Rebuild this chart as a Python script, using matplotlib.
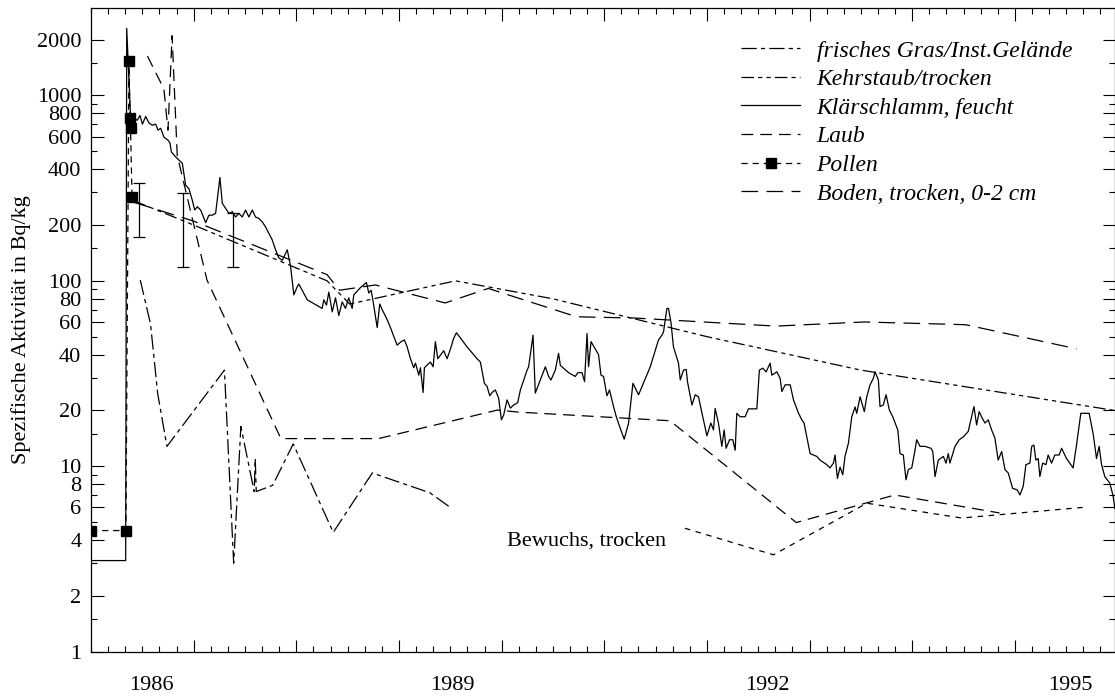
import matplotlib.pyplot as plt
import numpy as np

plt.rcParams['font.family'] = ['Liberation Serif', 'DejaVu Serif']
plt.rcParams['lines.scale_dashes'] = False

# Klärschlamm, feucht (year, Bq/kg)
klaer_t = [1986.01, 1986.338, 1986.348, 1986.387, 1986.419, 1986.452, 1986.477, 1986.501, 1986.533,
           1986.565, 1986.598, 1986.630, 1986.653, 1986.679, 1986.711, 1986.750, 1986.769, 1986.783,
           1986.825, 1986.857, 1986.890, 1986.922, 1986.954, 1986.987, 1987.010, 1987.036, 1987.068,
           1987.117, 1987.149, 1987.182, 1987.214, 1987.256, 1987.279, 1987.311, 1987.344, 1987.377,
           1987.409, 1987.441, 1987.474, 1987.506, 1987.538, 1987.571, 1987.603, 1987.635, 1987.669,
           1987.701, 1987.733, 1987.766, 1987.798, 1987.830, 1987.863, 1987.912, 1987.944, 1987.976,
           1988.009, 1988.025, 1988.107, 1988.252, 1988.268, 1988.294, 1988.317, 1988.350, 1988.382,
           1988.414, 1988.447, 1988.479, 1988.511, 1988.544, 1988.560, 1988.625, 1988.683, 1988.706,
           1988.729, 1988.749, 1988.788, 1988.813, 1988.836, 1988.878, 1988.917, 1988.982, 1989.021,
           1989.053, 1989.080, 1989.112, 1989.144, 1989.161, 1989.193, 1989.209, 1989.235, 1989.248,
           1989.306, 1989.333, 1989.355, 1989.378, 1989.436, 1989.469, 1989.508, 1989.533, 1989.560,
           1989.664, 1989.761, 1989.793, 1989.832, 1989.858, 1989.884, 1989.907, 1989.939, 1989.971,
           1989.998, 1990.020, 1990.053, 1990.085, 1990.117, 1990.156, 1990.183, 1990.248, 1990.263,
           1990.306, 1990.328, 1990.377, 1990.426, 1990.458, 1990.481, 1990.523, 1990.555, 1990.572,
           1990.652, 1990.717, 1990.744, 1990.783, 1990.808, 1990.832, 1990.847, 1990.871, 1990.944,
           1990.968, 1990.993, 1991.026, 1991.051, 1991.090, 1991.117, 1991.139, 1991.194, 1991.236,
           1991.279, 1991.334, 1991.448, 1991.528, 1991.562, 1991.577, 1991.610, 1991.626, 1991.649,
           1991.674, 1991.723, 1991.740, 1991.772, 1991.798, 1991.811, 1991.854, 1991.886, 1991.918,
           1991.951, 1992.000, 1992.038, 1992.064, 1992.080, 1992.112, 1992.145, 1992.168, 1992.187,
           1992.220, 1992.252, 1992.275, 1992.291, 1992.323, 1992.372, 1992.404, 1992.486, 1992.511,
           1992.544, 1992.577, 1992.616, 1992.632, 1992.681, 1992.713, 1992.730, 1992.762, 1992.811,
           1992.843, 1992.891, 1992.924, 1992.946, 1993.005, 1993.070, 1993.102, 1993.167, 1993.199,
           1993.232, 1993.248, 1993.271, 1993.297, 1993.323, 1993.345, 1993.378, 1993.411, 1993.443,
           1993.459, 1993.492, 1993.533, 1993.557, 1993.589, 1993.621, 1993.638, 1993.670, 1993.686,
           1993.718, 1993.745, 1993.777, 1993.810, 1993.859, 1993.881, 1993.913, 1993.939, 1993.962,
           1993.995, 1994.027, 1994.043, 1994.076, 1994.124, 1994.183, 1994.200, 1994.222, 1994.254,
           1994.303, 1994.329, 1994.351, 1994.367, 1994.416, 1994.458, 1994.497, 1994.545, 1994.578,
           1994.601, 1994.627, 1994.652, 1994.675, 1994.708, 1994.740, 1994.773, 1994.805, 1994.837,
           1994.871, 1994.903, 1994.935, 1994.978, 1995.022, 1995.049, 1995.081, 1995.107, 1995.146,
           1995.163, 1995.185, 1995.204, 1995.227, 1995.243, 1995.270, 1995.302, 1995.324, 1995.357,
           1995.389, 1995.431, 1995.455, 1995.503, 1995.567, 1995.600, 1995.642, 1995.681, 1995.723,
           1995.762, 1995.795, 1995.820, 1995.844, 1995.876, 1995.925, 1995.957, 1995.974]
klaer_v = [3.1, 3.1, 2300, 735, 751, 735, 780, 700, 770,
           710, 691, 700, 650, 665, 595, 574, 555, 496,
           466, 448, 430, 328, 314, 272, 241, 251, 241,
           206, 226, 226, 231, 361, 262, 246, 231, 236,
           221, 231, 221, 241, 221, 241, 221, 217, 208,
           195, 180, 166, 147, 133, 129, 147, 120, 84,
           93, 96, 79, 71, 79, 74, 87, 68, 81,
           65, 77, 71, 81, 71, 84, 92, 98, 86,
           89, 77, 56, 75, 70, 63, 56, 45, 47,
           48, 44, 38, 34, 36, 31, 34, 25, 34,
           36.5, 34.4, 47, 38, 42, 38, 44, 49, 52.5,
           44, 38, 36.5, 28, 27, 24, 25, 25.8, 23.3,
           17.8, 18.9, 22.8, 20.6, 21.4, 22, 25.8, 33, 34.4,
           51, 24.8, 29.2, 34.4, 30.5, 29.2, 33, 40.6, 35,
           32, 30.5, 32, 32, 28.6, 52, 34.4, 47, 40,
           31, 30.5, 24, 25.8, 21, 18.5, 17, 14, 17,
           28, 24.3, 34.4, 48, 51, 53, 71, 71, 60,
           44, 36, 29.2, 33, 33.3, 28.5, 21.4, 24.3, 23.7,
           19.4, 14.6, 17.1, 15.7, 20.5, 17.1, 12.8, 15.7, 12.5,
           13.9, 13.9, 12.2, 19.3, 18.5, 18.5, 20.4, 20.4, 33,
           33.8, 32.3, 36, 31, 32.3, 29.8, 25.3, 27.5, 27.5,
           22.8, 19.4, 17.8, 17.1, 11.7, 11.3, 10.8, 10.2, 9.8,
           10.4, 11.5, 8.6, 9.9, 9.0, 11.3, 13.3, 18.5, 20.9,
           19.3, 23.7, 19.7, 23.7, 27.5, 29.8, 32.3, 29.2, 21,
           21.4, 24.3, 20.1, 18.5, 15.7, 11.7, 11.5, 8.45, 9.6,
           9.8, 12.2, 13.9, 12.8, 12.8, 12.5, 12, 8.8, 10.8,
           11.3, 10.4, 11.7, 10.4, 12.8, 13.9, 14.4, 15.4, 18.5,
           21, 16.7, 19.7, 18.5, 17.1, 17.8, 15.7, 14.2, 10.8,
           12, 9.6, 9.2, 7.6, 7.46, 7.0, 7.8, 10.2, 10.4,
           12.8, 13, 10.8, 11, 8.8, 10.4, 10.2, 11.5, 10.4,
           11.5, 11.5, 12.5, 11, 9.8, 13, 19.3, 19.3, 19.3,
           15, 11, 12.8, 10.2, 8.8, 8.1, 6.9, 5.9]

# Pollen
pollen_t = [1986.0, 1986.340, 1986.370, 1986.380, 1986.385, 1986.400]
pollen_v = [4.5, 4.5, 1535, 760, 664, 282]

# Boden, trocken, 0-2 cm
boden_t = [1986.42, 1987.0, 1988.3, 1988.42, 1988.77, 1989.45, 1989.87, 1990.73, 1991.3, 1992.67, 1993.53, 1994.52, 1995.6]
boden_v = [265, 210, 108, 89, 95, 76, 91, 64, 63, 57, 60, 58, 43]

# Kehrstaub/trocken
kehr_t = [1986.42, 1987.0, 1988.3, 1988.52, 1989.55, 1990.5, 1992.0, 1993.5, 1995.97]
kehr_v = [270, 200, 100, 75, 100, 80, 50, 33, 20]

# Laub
laub_t = [1986.55, 1986.71, 1986.75, 1986.79, 1986.84, 1987.13, 1987.85, 1988.8, 1989.96, 1990.16, 1991.64,
          1992.87, 1993.83, 1994.85]
laub_v = [1630, 1085, 650, 2100, 476, 101, 14.1, 14.1, 20.1, 19.6, 17.6, 4.97, 7.0, 5.6]

# frisches Gras/Inst.Gelände
gras_t = [1986.48, 1986.58, 1986.65, 1986.74, 1987.30, 1987.39, 1987.46, 1987.59, 1987.60, 1987.61,
          1987.77, 1987.97, 1988.36, 1988.74, 1989.3, 1989.5]
gras_v = [101, 58.5, 24.6, 12.8, 33, 3.0, 16.4, 7.3, 11, 7.3, 7.9, 13.2, 4.4, 9.2, 7.2, 6.0]

# Bewuchs, trocken
bew_t = [1991.785, 1992.648, 1993.557, 1994.48, 1995.665]
bew_v = [4.63, 3.33, 6.32, 5.26, 6.0]

# error bars (year, lower, upper)
err_t = [1986.47, 1986.90, 1987.38]
err_lo = [172, 119, 119]
err_hi = [338, 296, 231]

year_labels = ['1986', '1989', '1992', '1995']
year_label_pos = [1986.59, 1989.525, 1992.59, 1995.54]

fig = plt.figure(figsize=(11.15, 6.99), dpi=100)
ax = fig.add_axes([0.0816, 0.0677, 0.9184, 0.9204])

lw = 0.9
ax.plot(gras_t, gras_v, color='black', lw=lw, dashes=(11, 3, 3, 3), label='frisches Gras/Inst.Gelände')
ax.plot(kehr_t, kehr_v, color='black', lw=lw, dashes=(9, 3, 3, 3, 3, 3), label='Kehrstaub/trocken')
ax.plot(klaer_t, klaer_v, color='black', lw=lw, label='Klärschlamm, feucht')
ax.plot(laub_t, laub_v, color='black', lw=lw, dashes=(8.5, 5), label='Laub')
ax.plot(pollen_t, pollen_v, color='black', lw=lw, dashes=(4.5, 3.5), marker='s', ms=6.5,
        label='Pollen')
ax.plot(boden_t, boden_v, color='black', lw=lw, dashes=(12, 6), label='Boden, trocken, 0-2 cm')
ax.plot(bew_t, bew_v, color='black', lw=lw, dashes=(4, 4))
ax.vlines(err_t, err_lo, err_hi, color='black', lw=lw)
ax.plot(err_t, err_lo, ls='none', marker='_', ms=8, mew=lw, color='black')
ax.plot(err_t, err_hi, ls='none', marker='_', ms=8, mew=lw, color='black')
ax.text(1990.05, 3.93, 'Bewuchs, trocken', fontsize=16, ha='left', va='center')

ax.set_yscale('log')
ax.set_xlim(1986.0, 1995.975)
ax.set_ylim(1, 2950)

ymaj = [1, 2, 4, 6, 8, 10, 20, 40, 60, 80, 100, 200, 400, 600, 800, 1000, 2000]
ymin = [1.5, 3, 5, 7, 9, 15, 30, 50, 70, 90, 150, 300, 500, 700, 900, 1500]
ax.set_yticks(ymaj)
ax.set_yticklabels([str(v) for v in ymaj])
ax.set_yticks(ymin, minor=True)
ax.set_yticklabels([], minor=True)

ax.set_xticks(np.arange(1987, 1996))
ax.set_xticklabels([])
ax.set_xticks(np.arange(1986, 1996, 1 / 6), minor=True)

ax.tick_params(which='both', direction='in', top=True, right=True, width=0.8, labelsize=16, pad=7)
ax.tick_params(which='major', length=9)
ax.tick_params(which='minor', length=4.5)
for s in ax.spines.values():
    s.set_linewidth(0.9)

for lab, pos in zip(year_labels, year_label_pos):
    ax.text(pos, -0.052, lab, transform=ax.get_xaxis_transform(), ha='center', va='center', fontsize=16)

ax.set_ylabel('Spezifische Aktivität in Bq/kg', fontsize=16, labelpad=4)

leg = ax.legend(loc='upper left', bbox_to_anchor=(741 / 1115, 1 - 40 / 699), bbox_transform=fig.transFigure,
                frameon=False, prop={'style': 'italic', 'size': 17}, handlelength=2.5, handletextpad=0.7,
                labelspacing=0.3, borderpad=0, borderaxespad=0)

fig.savefig('out.png', dpi=100)
